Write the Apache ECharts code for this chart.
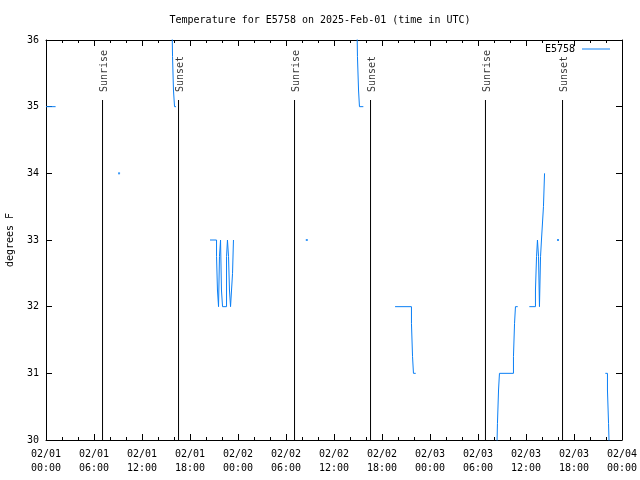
<!DOCTYPE html>
<html><head><meta charset="utf-8">
<script src="https://cdn.jsdelivr.net/npm/echarts@6/dist/echarts.min.js"></script>
<style>html,body{margin:0;padding:0;background:#fff}#c{width:640px;height:480px}</style>
</head><body><div id="c"></div>
<script>
const titleText = 'Temperature for E5758 on 2025-Feb-01 (time in UTC)';
const seriesName = 'E5758';
const yAxisName = 'degrees F';
const xTickLabels = ['02/01\n00:00','02/01\n06:00','02/01\n12:00','02/01\n18:00','02/02\n00:00','02/02\n06:00','02/02\n12:00','02/02\n18:00','02/03\n00:00','02/03\n06:00','02/03\n12:00','02/03\n18:00','02/04\n00:00'];
const yMin = 30, yMax = 36;

// temperature samples (null = gap in record)
const tempTimes = [
 '02/01 00:00','02/01 01:12',null,
 '02/01 09:08',null,
 '02/01 15:45','02/01 15:49','02/01 15:56','02/01 16:04','02/01 16:15',null,
 '02/01 20:30','02/01 21:19','02/01 21:26','02/01 21:34','02/01 21:41','02/01 21:49','02/01 21:56','02/01 22:04','02/01 22:34','02/01 22:41','02/01 22:49','02/01 22:56','02/01 23:04','02/01 23:19','02/01 23:26',null,
 '02/02 08:36',null,
 '02/02 14:52','02/02 14:56','02/02 15:04','02/02 15:11','02/02 15:40',null,
 '02/02 19:38','02/02 21:41','02/02 21:49','02/02 21:56','02/02 22:13',null,
 '02/03 08:20','02/03 08:26','02/03 08:34','02/03 08:41','02/03 10:26','02/03 10:34','02/03 10:41','02/03 10:58',null,
 '02/03 12:25','02/03 13:11','02/03 13:19','02/03 13:26','02/03 13:34','02/03 13:41','02/03 13:49','02/03 13:56','02/03 14:11','02/03 14:19',null,
 '02/03 16:00',null,
 '02/03 21:55','02/03 22:11','02/03 22:19','02/03 22:26'
];
const tempValues = [
 35,35,null,
 34,null,
 36.25,35.75,35.25,35,35,null,
 33,32.75,32.25,32,32.75,33,32.25,32,32.75,33,32.75,32.25,32,32.5,33,null,
 33,null,
 36.25,35.75,35.25,35,35,null,
 32,31.75,31.25,31,31,null,
 29.75,30.25,30.75,31,31.25,31.75,32,32,null,
 32,32.25,32.75,33,32.75,32,32.75,33,33.5,34,null,
 33,null,
 31,30.75,30.25,29.75
];

const eventNames = ['Sunrise','Sunset','Sunrise','Sunset','Sunrise','Sunset'];
const eventTimes = ['02/01 07:04','02/01 16:34','02/02 07:04','02/02 16:34','02/03 06:56','02/03 16:34'];
const eventTop = 35.1;

function toHours(s){
  const [d,t] = s.split(' ');
  const day = +d.split('/')[1];
  const [h,m] = t.split(':').map(Number);
  return (day-1)*24 + h + m/60;
}

const FONT = '"DejaVu Sans Mono","Liberation Mono",monospace';
const BLUE = '#0a7ff5';

const lineData = [];
const dotData = [];
for (let i=0;i<tempTimes.length;i++){
  if (tempTimes[i]===null){ lineData.push(['-','-']); continue; }
  const p = [toHours(tempTimes[i]), tempValues[i]];
  lineData.push(p);
  const prevNull = i===0 || tempTimes[i-1]===null;
  const nextNull = i===tempTimes.length-1 || tempTimes[i+1]===null;
  if (prevNull && nextNull) dotData.push(p);
}

const eventLineData = [];
const eventLabelData = [];
eventTimes.forEach((t,i)=>{
  const h = toHours(t);
  eventLineData.push([h, yMin]);
  eventLineData.push([h, eventTop]);
  eventLineData.push(['-','-']);
  eventLabelData.push({value:[h, eventTop], name: eventNames[i]});
});

const tickStyle = {show:true, inside:true, length:6, lineStyle:{color:'#000', width:1}};
const minorStyle = {show:true, splitNumber:3, length:3, lineStyle:{color:'#000', width:1}};
const axisLineStyle = {show:true, onZero:false, lineStyle:{color:'#000', width:1}};

function xAx(pos, labels){
  return {
    type:'value', position:pos, min:0, max:72, interval:6,
    axisLine: axisLineStyle, axisTick: tickStyle, minorTick: minorStyle,
    splitLine:{show:false}, minorSplitLine:{show:false},
    axisLabel: labels ? {show:true, formatter:(v)=>xTickLabels[Math.round(v/6)], fontFamily:FONT, fontSize:10, lineHeight:14, color:'#000', margin:7} : {show:false}
  };
}
function yAx(pos, labels){
  const a = {
    type:'value', position:pos, min:yMin, max:yMax, interval:1,
    axisLine: axisLineStyle, axisTick: tickStyle,
    splitLine:{show:false},
    axisLabel: labels ? {show:true, fontFamily:FONT, fontSize:10, color:'#000', margin:7} : {show:false}
  };
  if (labels){
    a.name = yAxisName; a.nameLocation='middle'; a.nameRotate=90; a.nameGap=31;
    a.nameTextStyle = {fontFamily:FONT, fontSize:10, color:'#000'};
  }
  return a;
}

const chart = echarts.init(document.getElementById('c'), null, {renderer:'canvas'});
chart.setOption({
  animation:false,
  backgroundColor:'#fff',
  title:{text:titleText, left:'center', top:10, textStyle:{fontFamily:FONT, fontSize:10, fontWeight:'normal', color:'#000'}},
  legend:{data:[{name:seriesName, icon:'rect'}], right:30, top:44, padding:0, align:'right', itemWidth:28, itemHeight:1,
    textStyle:{fontFamily:FONT, fontSize:10, color:'#000', padding:[0,2,0,0]}},
  grid:{left:46, right:18, top:40, bottom:40, containLabel:false, outerBoundsMode:'none'},
  xAxis:[xAx('bottom', true), xAx('top', false)],
  yAxis:[yAx('left', true), yAx('right', false)],
  series:[
    {name:seriesName, type:'line', data:lineData, step:'end', showSymbol:false, symbol:'none',
     color:BLUE, lineStyle:{color:BLUE, width:1}, clip:true, connectNulls:false},
    {type:'scatter', data:dotData, symbol:'rect', symbolSize:2, itemStyle:{color:BLUE}, silent:true},
    {type:'line', data:eventLineData, showSymbol:false, symbol:'none', color:'#000', lineStyle:{color:'#000', width:1},
     connectNulls:false, silent:true},
    {type:'scatter', data:eventLabelData, symbolSize:0, itemStyle:{color:'rgba(0,0,0,0)'}, silent:true,
     label:{show:true, formatter:(p)=>p.name, position:'top', rotate:90, align:'left', verticalAlign:'middle', distance:8, offset:[0,2], fontFamily:FONT, fontSize:10, color:'#000'}}
  ]
});
</script>
</body></html>
